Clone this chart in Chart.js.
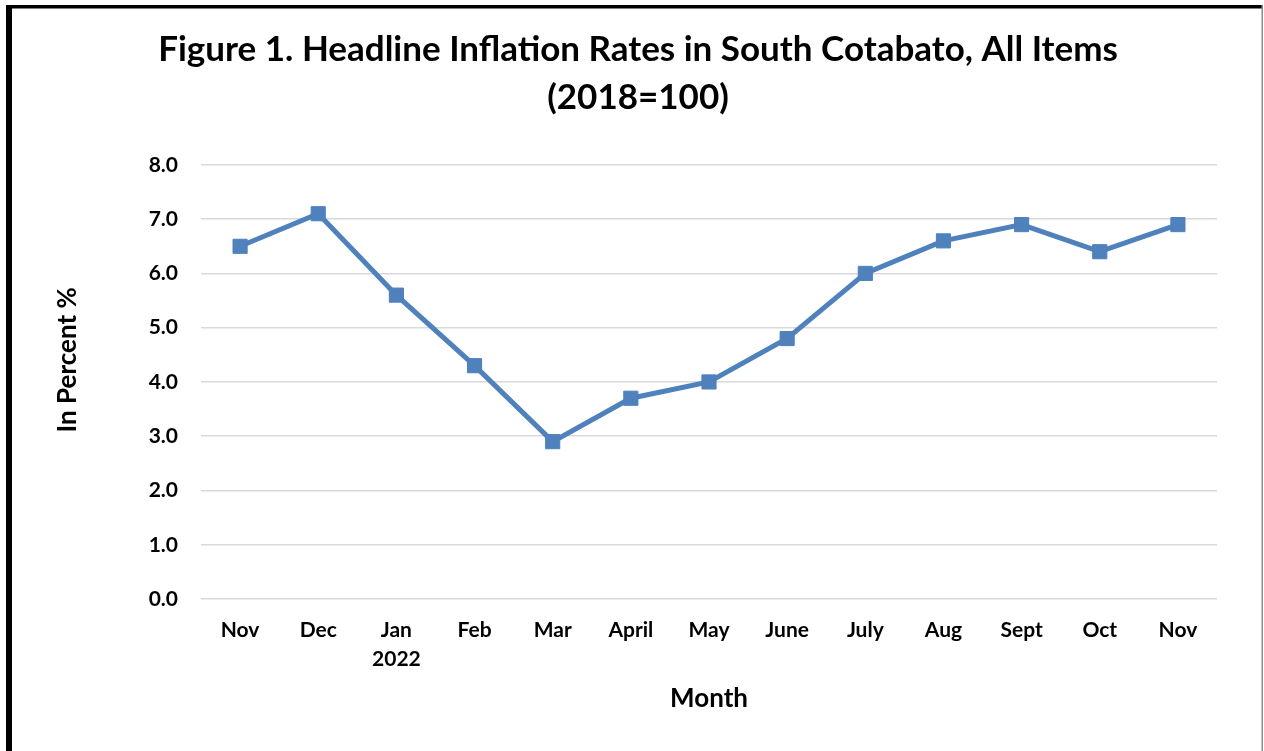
<!DOCTYPE html>
<html>
<head>
<meta charset="utf-8">
<script src="https://cdn.jsdelivr.net/npm/chart.js@4.4.0/dist/chart.umd.min.js"></script>
<style>
html,body{margin:0;padding:0;background:#fff;}
canvas{display:block;}
</style>
</head>
<body>
<canvas id="c" width="1264" height="751"></canvas>
<script>
const categories = [["Nov"],["Dec"],["Jan","2022"],["Feb"],["Mar"],["April"],["May"],["June"],["July"],["Aug"],["Sept"],["Oct"],["Nov"]];
const inflation = [6.5, 7.1, 5.6, 4.3, 2.9, 3.7, 4.0, 4.8, 6.0, 6.6, 6.9, 6.4, 6.9];
const yMin = 0, yMax = 8, yStep = 1;
const titleLines = ["Figure 1. Headline Inflation Rates in South Cotabato, All Items", "(2018=100)"];
const yTitle = "In Percent %";
const xTitle = "Month";

const FONT = "Lato, 'Open Sans', sans-serif";

const framePlugin = {
  id: 'frame',
  beforeDraw(chart) {
    const ctx = chart.ctx;
    ctx.save();
    ctx.fillStyle = '#fff';
    ctx.fillRect(0, 0, chart.width, chart.height);
    ctx.fillStyle = '#000';
    ctx.fillRect(6, 5, 1256, 3.5);
    ctx.fillRect(6, 5, 6, 746);
    ctx.fillStyle = '#8c8c8c';
    ctx.fillRect(1261.5, 5, 1.5, 746);
    ctx.restore();
  }
};

new Chart(document.getElementById('c'), {
  type: 'line',
  data: {
    labels: categories,
    datasets: [{
      data: inflation,
      borderColor: '#4F81BD',
      backgroundColor: '#4F81BD',
      borderWidth: 5,
      pointStyle: 'rect',
      pointRadius: 10,
      pointHoverRadius: 10,
      pointBorderWidth: 1,
      tension: 0,
      fill: false
    }]
  },
  options: {
    responsive: false,
    animation: false,
    devicePixelRatio: 1,
    layout: { padding: { left: 59, right: 47, top: 26, bottom: 0 } },
    plugins: {
      legend: { display: false },
      tooltip: { enabled: false },
      title: {
        display: true,
        text: titleLines,
        color: '#000',
        font: { family: FONT, size: 35, weight: 'bold', lineHeight: 1.37 },
        padding: { top: 0, bottom: 43 }
      }
    },
    scales: {
      x: {
        offset: true,
        grid: { display: false, drawTicks: false },
        border: { display: false },
        ticks: {
          color: '#000',
          font: { family: FONT, size: 21, weight: 'bold', lineHeight: 1.38 },
          padding: 17,
          maxRotation: 0,
          autoSkip: false
        },
        title: {
          display: true,
          text: xTitle,
          color: '#000',
          font: { family: FONT, size: 26, weight: 'bold', lineHeight: 1.2 },
          padding: { top: 0, bottom: 37 }
        },
        afterFit(s) { s.height = 152; }
      },
      y: {
        min: yMin,
        max: yMax,
        grid: { color: '#d9d9d9', lineWidth: 1.5, drawTicks: false },
        border: { display: false },
        ticks: {
          stepSize: yStep,
          color: '#000',
          font: { family: FONT, size: 21, weight: 'bold' },
          padding: 23,
          callback: v => Number(v).toFixed(1)
        },
        title: {
          display: true,
          text: "\u00A0\u00A0\u00A0\u00A0\u00A0\u00A0\u00A0" + yTitle,
          color: '#000',
          font: { family: FONT, size: 26, weight: 'bold', lineHeight: 1 },
          padding: { top: -4, bottom: 0 }
        },
        afterFit(s) { s.width = 142; }
      }
    }
  },
  plugins: [framePlugin]
});
</script>
</body>
</html>
